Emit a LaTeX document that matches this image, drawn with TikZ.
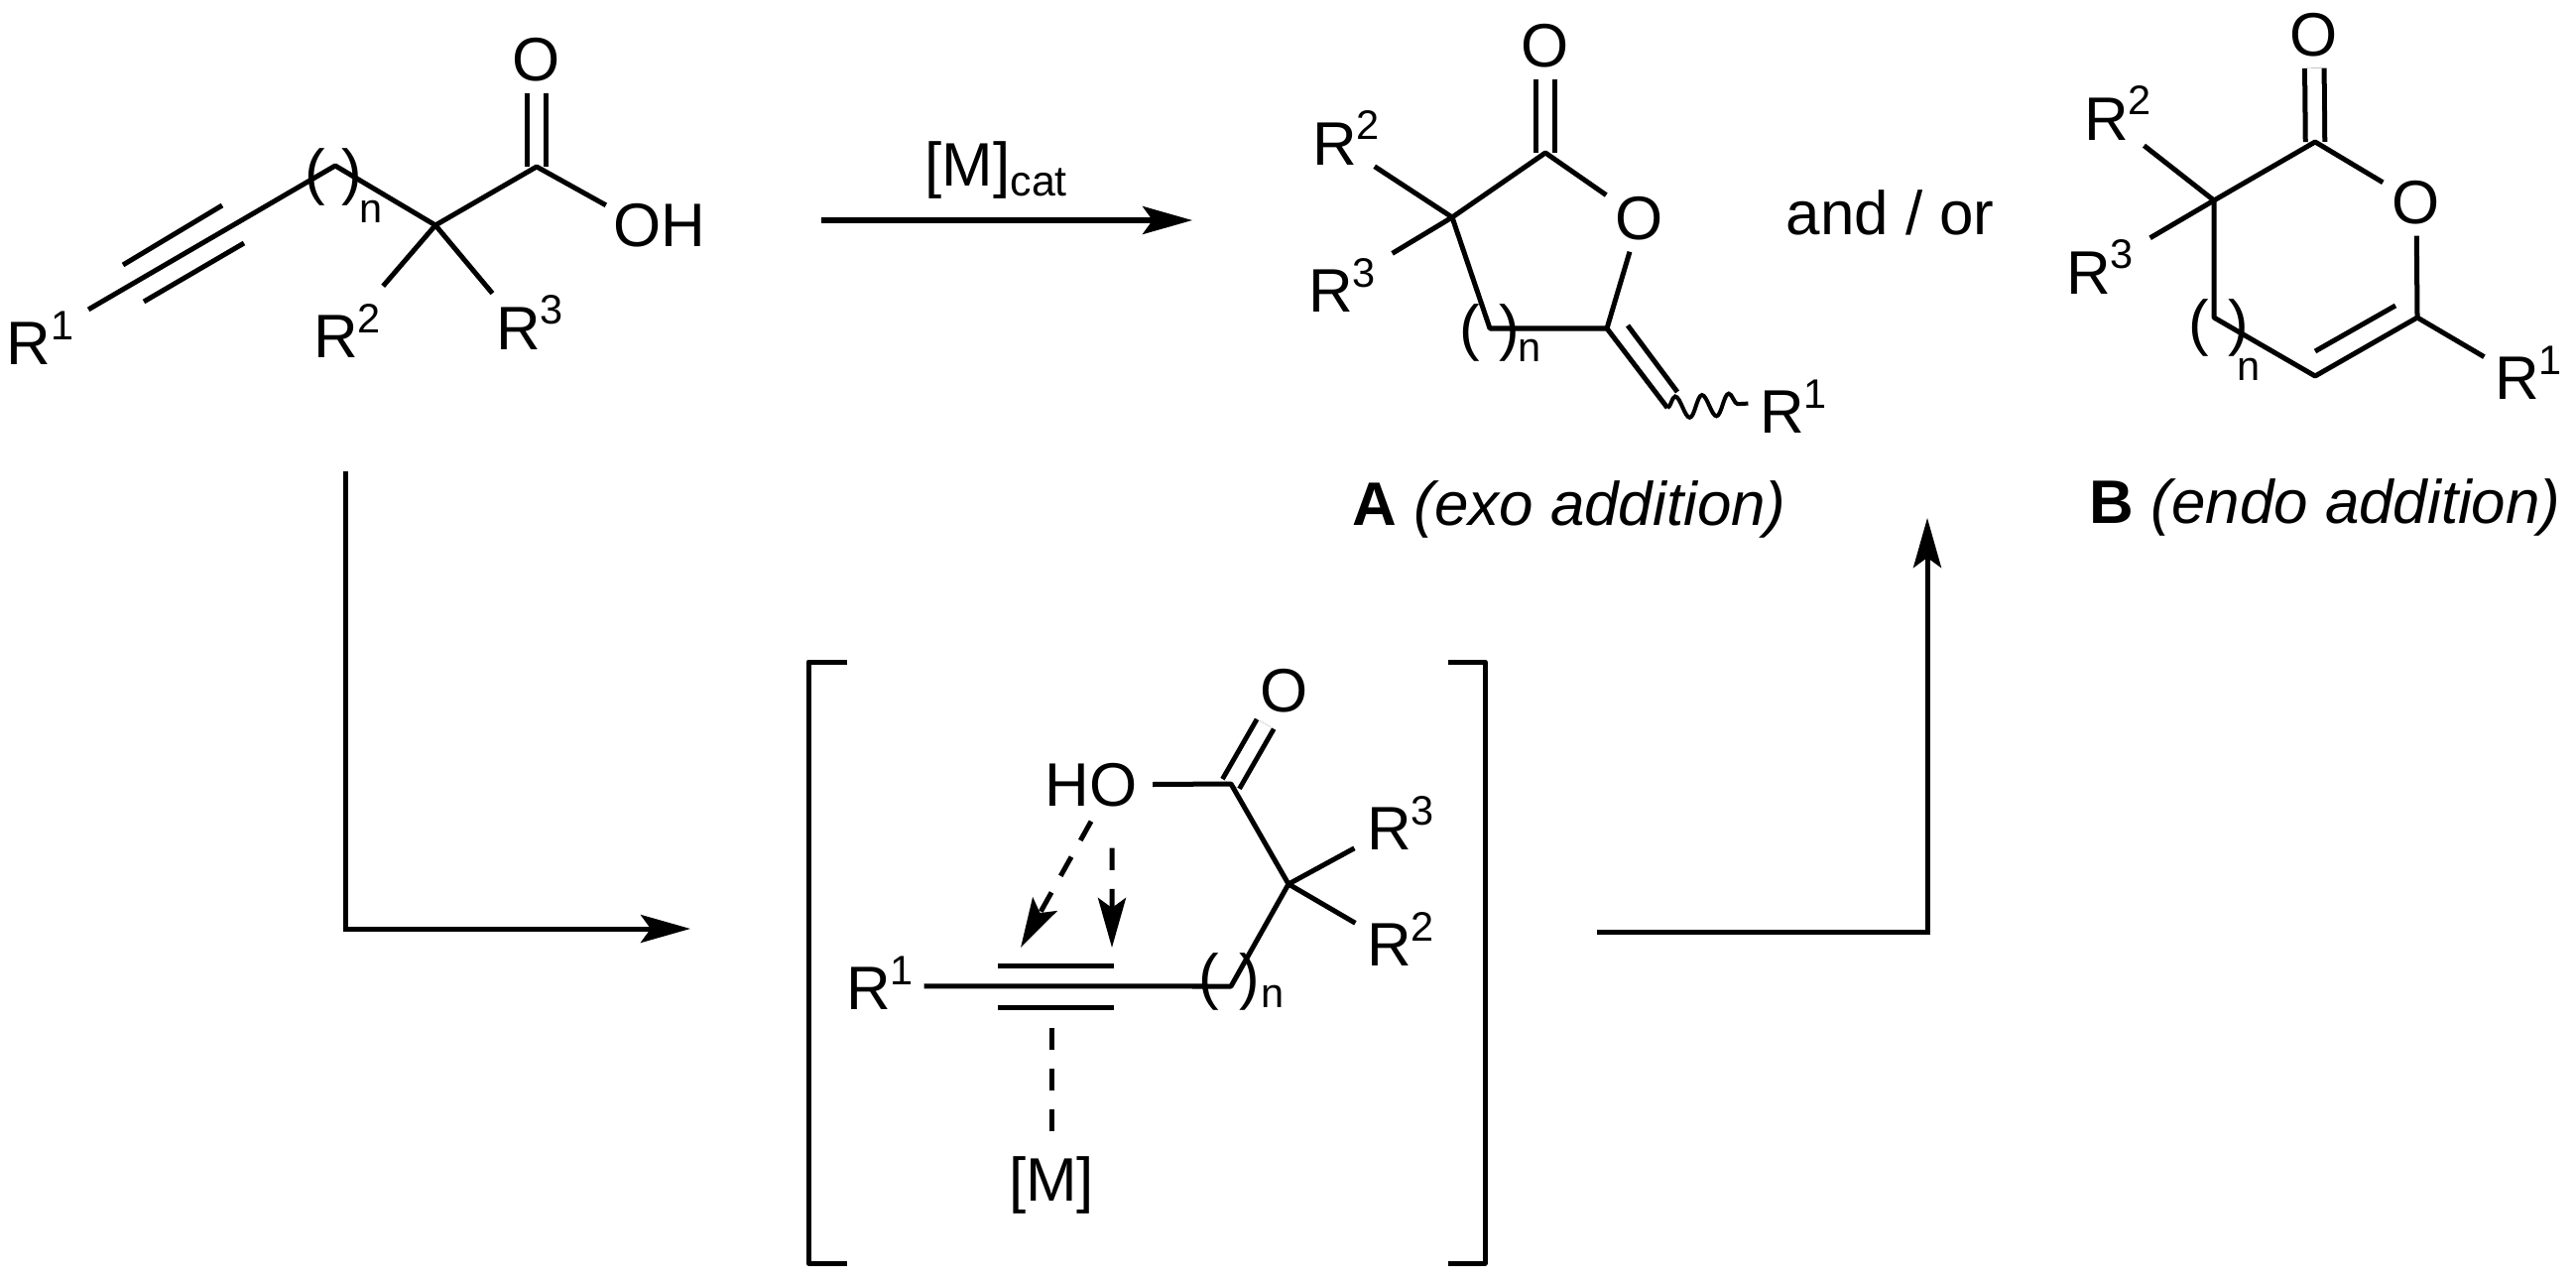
\documentclass[tikz,border=0pt]{standalone}
\usepackage{fontspec}
\setmainfont{Liberation Sans}
\usetikzlibrary{arrows.meta,decorations.pathmorphing}
\newcommand{\molfont}{\fontsize{17.6}{20}\selectfont}
\newcommand{\supfont}{\fontsize{11.8}{13}\selectfont}
\newcommand{\rlab}[1]{R\raisebox{.25cm}{\supfont #1}}
\tikzset{
  bond/.style={line width=.05cm, line join=round},
  dbl/.style={bond, double, double distance=.145cm},
  dashln/.style={bond, dash pattern=on .22cm off .19cm},
  flow/.style={line width=.05cm, -{Stealth[length=.5cm, width=.28cm, inset=.1cm]}},
  hit/.style={bond, dash pattern=on .22cm off .19cm, -{Stealth[length=.5cm, width=.28cm, inset=.1cm]}},
  txt/.style={font=\molfont, inner sep=0pt, anchor=base west},
  idx/.style={font=\supfont, inner sep=0pt, anchor=base west},
  atom/.style={font=\molfont, inner sep=0pt, minimum size=.66cm},
  rgrp/.style={font=\molfont, text height=.54cm, text depth=0pt},
  oh/.style={font=\molfont, text height=.43cm, text depth=0pt}
}
\begin{document}
\begin{tikzpicture}[x=.01cm, y=-.01cm]
  \useasboundingbox (0,0) rectangle (2597,1291);

  \coordinate (sb) at (338,167);
  \coordinate (sq) at (439,227);
  \coordinate (sc) at (541,168);
  \coordinate (st1) at (124,267);
  \coordinate (st2) at (224,207);
  \coordinate (st3) at (145,304);
  \coordinate (st4) at (246,245);
  \node[atom] (so) at (541,60) {O};
  \node[oh, inner sep=.07cm] (soh) at (665,226.5) {OH};
  \node[rgrp, inner sep=.14cm] (sr1) at (40.5,340) {\rlab{1}};
  \node[rgrp, inner sep=.17cm] (sr2) at (350,333) {\rlab{2}};
  \node[rgrp, inner sep=.03cm] (sr3) at (534,325) {\rlab{3}};
  \node[txt] (spl) at (307,195) {(};
  \node[txt] (spr) at (344,195) {)};
  \node[idx] (sn) at (362,225) {n};
  \draw[dbl] (sc) -- (so);
  \draw[bond] (sr1.30) -- (sb) -- (sq) -- (sc) -- (soh.160);
  \draw[bond] (st1) -- (st2);
  \draw[bond] (st3) -- (st4);
  \draw[bond] (sq) -- (sr2.51);
  \draw[bond] (sq) -- (sr3.142);

  \coordinate (top1) at (828,222);
  \coordinate (top2) at (1202,222);
  \node[txt] (mcat) at (932,188) {[M]{\fontsize{12.2}{14}\selectfont\raisebox{-.09cm}{cat}}};
  \draw[flow] (top1) -- (top2);

  \coordinate (pc) at (1558,154);
  \coordinate (pq) at (1464,219);
  \coordinate (pm) at (1502,331);
  \coordinate (pe) at (1620,331);
  \coordinate (pv) at (1681,411);
  \coordinate (pd1) at (1641,328);
  \coordinate (pd2) at (1691,395);
  \node[atom] (po) at (1558,46) {O};
  \node[atom] (pring) at (1653,220) {O};
  \node[rgrp, inner sep=.01cm] (pr2) at (1357,139) {\rlab{2}};
  \node[rgrp, inner sep=.16cm] (pr3) at (1353,287) {\rlab{3}};
  \node[rgrp, inner sep=.11cm] (pr1) at (1808,409) {\rlab{1}};
  \node[txt] (ppl) at (1471,351) {(};
  \node[txt] (ppr) at (1511,351) {)};
  \node[idx] (pn) at (1530,364) {n};
  \node[txt] (pcap) at (1363,529) {\textbf{A} \textit{(exo addition)}};
  \draw[dbl] (pc) -- (po);
  \draw[bond] (pring) -- (pc) -- (pq) -- (pm) -- (pe) -- (pring);
  \draw[bond] (pq) -- (pr2.-45);
  \draw[bond] (pq) -- (pr3.32);
  \draw[bond] (pe) -- (pv);
  \draw[bond] (pd1) -- (pd2);
  \draw[line width=.04cm, decorate, decoration={snake, amplitude=.11cm, segment length=.27cm}] (pv) -- (pr1.177);

  \node[txt] (andor) at (1800,236) {and / or};

  \coordinate (qc) at (2334,143);
  \coordinate (qq) at (2232,202);
  \coordinate (qm) at (2232,320);
  \coordinate (qv) at (2334,379);
  \coordinate (qe) at (2437,320);
  \coordinate (qd1) at (2334,354);
  \coordinate (qd2) at (2415,308);
  \node[atom] (qo) at (2333,35) {O};
  \node[atom] (qring) at (2436,204) {O};
  \node[rgrp, inner sep=.05cm] (qr2) at (2135,114) {\rlab{2}};
  \node[rgrp, inner sep=.16cm] (qr3) at (2117,269) {\rlab{3}};
  \node[rgrp, inner sep=.10cm] (qr1) at (2549,375) {\rlab{1}};
  \node[txt] (qpl) at (2206,346) {(};
  \node[txt] (qpr) at (2246,346) {)};
  \node[idx] (qn) at (2255,383) {n};
  \node[txt] (qcap) at (2106,527) {\textbf{B} \textit{(endo addition)}};
  \draw[dbl] (qc) -- (qo);
  \draw[bond] (qring) -- (qc) -- (qq) -- (qm) -- (qv) -- (qe) -- (qring);
  \draw[bond] (qd1) -- (qd2);
  \draw[bond] (qq) -- (qr2.-51);
  \draw[bond] (qq) -- (qr3.30);
  \draw[bond] (qe) -- (qr1.161);

  \coordinate (low1) at (348,475);
  \coordinate (low2) at (696,936);
  \coordinate (up1) at (1610,939);
  \coordinate (up2) at (1943,522);
  \draw[flow] (low1) |- (low2);
  \draw[flow] (up1) -| (up2);

  \draw[bond] (854,667) -- (815,667) -- (815,1273) -- (854,1273);
  \draw[bond] (1460,667) -- (1497,667) -- (1497,1273) -- (1460,1273);

  \coordinate (cc) at (1241,790);
  \coordinate (cq) at (1299,891);
  \coordinate (cm) at (1241,994);
  \coordinate (ct1) at (1006,973);
  \coordinate (ct2) at (1123,973);
  \coordinate (ct3) at (1006,1015);
  \coordinate (ct4) at (1123,1015);
  \coordinate (cmid) at (1060,1015);
  \coordinate (ctipa) at (1029,955);
  \coordinate (ctipb) at (1121,955);
  \node[atom] (co) at (1295,696) {O};
  \node[oh, inner sep=.15cm] (cho) at (1100,790.5) {HO};
  \node[rgrp, inner sep=.10cm] (cr1) at (887,990) {\rlab{1}};
  \node[rgrp, inner sep=.12cm] (cr3) at (1412,829) {\rlab{3}};
  \node[rgrp, inner sep=.11cm] (cr2) at (1412,946) {\rlab{2}};
  \node[oh, inner sep=.20cm] (cmet) at (1060,1188.5) {[M]};
  \node[txt] (cpl) at (1208,1005) {(};
  \node[txt] (cpr) at (1249,1005) {)};
  \node[idx] (cn) at (1271,1015) {n};
  \draw[dbl] (cc) -- (co);
  \draw[bond] (cr1.-5) -- (cm) -- (cq) -- (cc) -- (cho.east);
  \draw[bond] (ct1) -- (ct2);
  \draw[bond] (ct3) -- (ct4);
  \draw[bond] (cq) -- (cr3.-151);
  \draw[bond] (cq) -- (cr2.161);
  \draw[hit] (cho.south) -- (ctipa);
  \draw[hit, shorten <=.27cm] ([xshift=.21cm]cho.south) -- (ctipb);
  \draw[dashln, shorten <=.21cm] (cmid) -- (cmet.north);
\end{tikzpicture}
\end{document}
